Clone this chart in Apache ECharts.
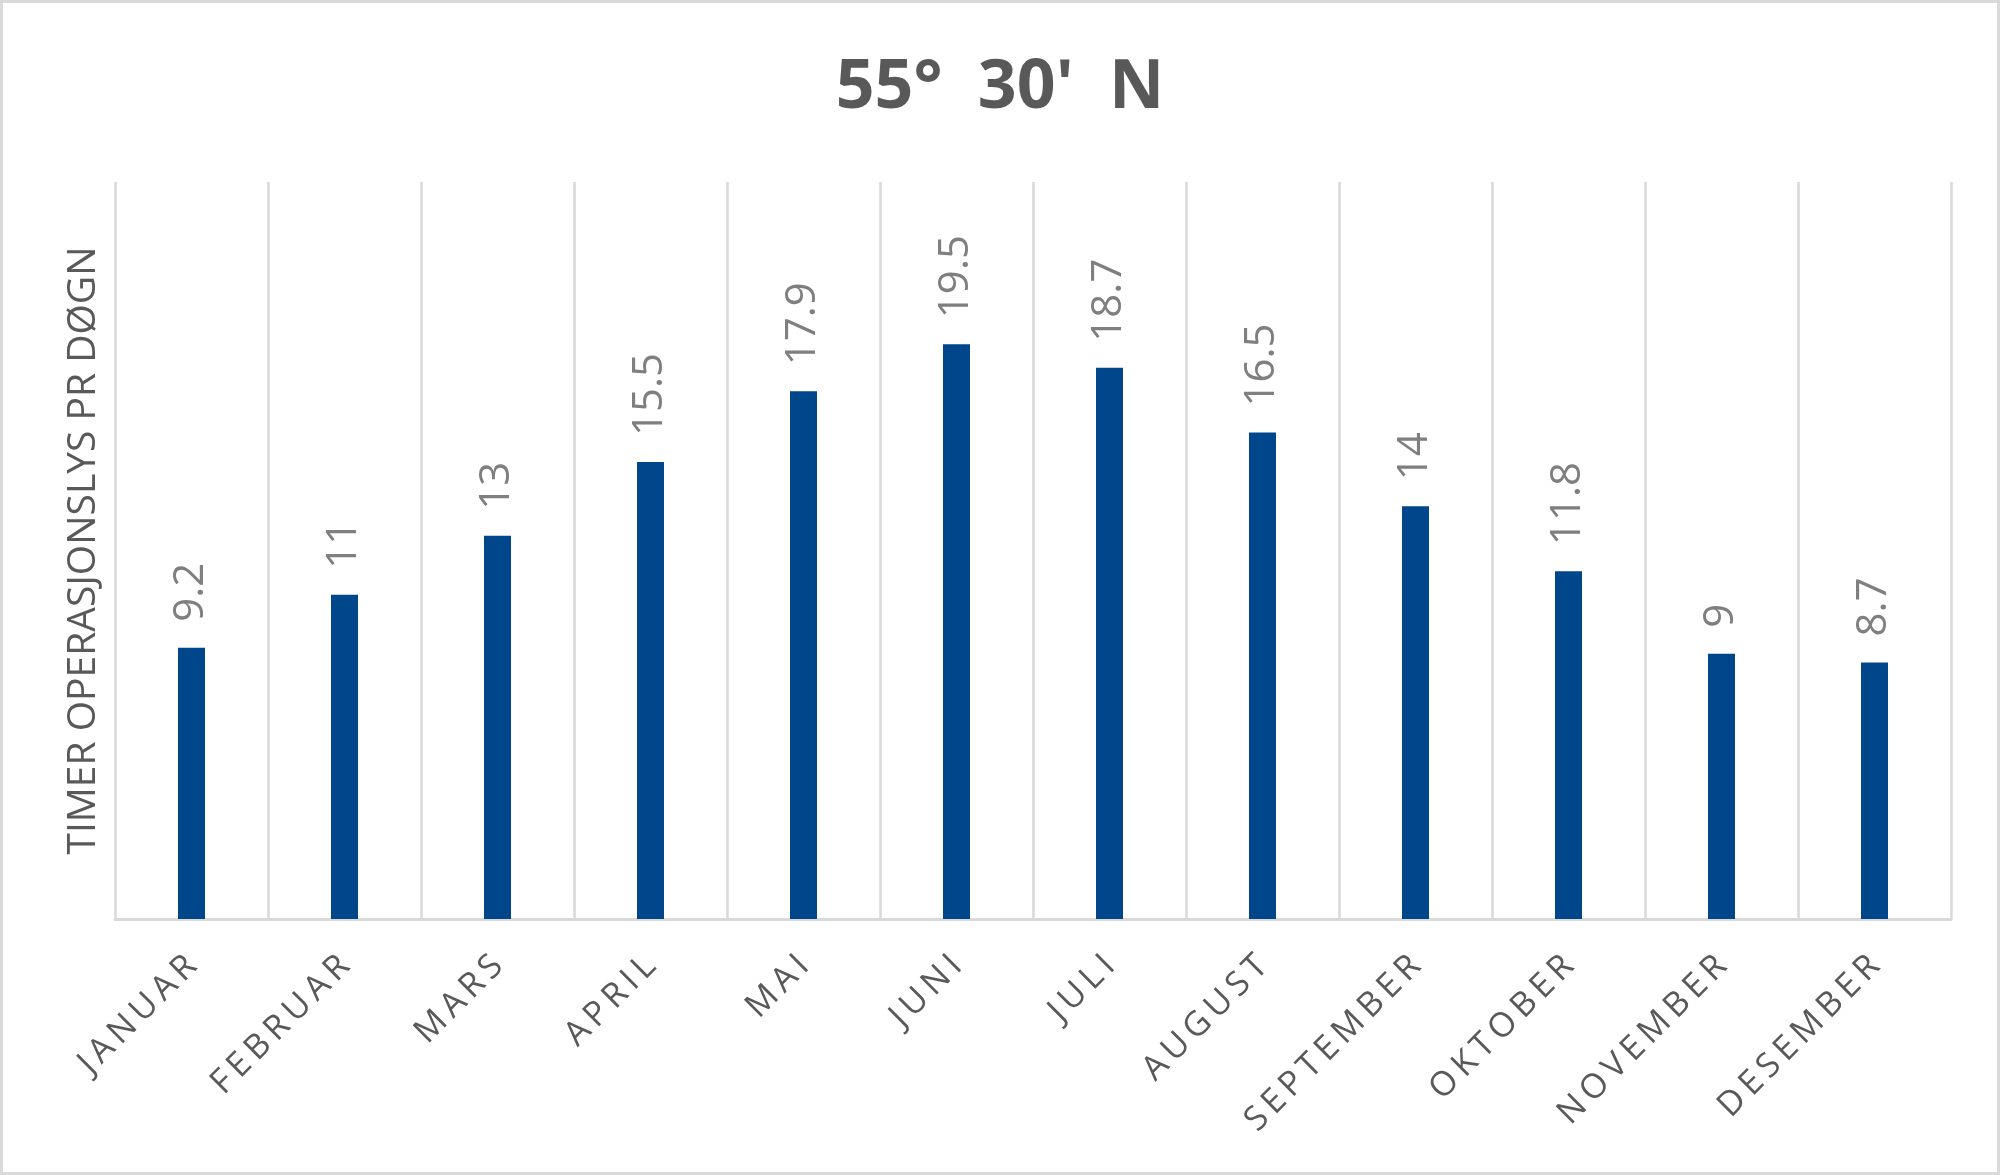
<!DOCTYPE html>
<html>
<head>
<meta charset="utf-8">
<script src="https://cdn.jsdelivr.net/npm/echarts@6/dist/echarts.min.js"></script>
<style>
  html, body { margin: 0; padding: 0; background: #fff; }
  #frame { width: 2000px; height: 1175px; box-sizing: border-box; border: 3px solid #d9d9d9; }
  #chart { width: 1994px; height: 1169px; }
</style>
</head>
<body>
<div id="frame"><div id="chart"></div></div>
<script>
// Data
const months = ['JANUAR', 'FEBRUAR', 'MARS', 'APRIL', 'MAI', 'JUNI',
                'JULI', 'AUGUST', 'SEPTEMBER', 'OKTOBER', 'NOVEMBER', 'DESEMBER']
const hours  = [9.2, 11, 13, 15.5, 17.9, 19.5, 18.7, 16.5, 14, 11.8, 9, 8.7]
const titleText = '55°  30\'  N'
const yName = 'TIMER OPERASJONSLYS PR DØGN'

// Excel-style spaced capitals on the category labels
const spaced = s => s.split('').join('\u2009')

const chart = echarts.init(document.getElementById('chart'))
chart.setOption({
  animation: false,
  title: {
    text: titleText,
    left: 'center',
    top: 47,
    textStyle: { fontFamily: 'Open Sans', fontWeight: 'bold', fontSize: 68, color: '#595959' },
  },
  grid: { left: 112, right: 46, top: 179, bottom: 253 },
  xAxis: {
    type: 'category',
    data: months,
    boundaryGap: true,
    axisLine: { lineStyle: { color: '#d9d9d9', width: 3 } },
    axisTick: { show: false },
    splitLine: { show: true, lineStyle: { color: '#d9d9d9', width: 2.5 } },
    axisLabel: {
      rotate: 45,
      margin: 42,
      fontFamily: 'Open Sans',
      fontSize: 34,
      color: '#595959',
      interval: 0,
      formatter: v => spaced(v),
    },
  },
  yAxis: {
    type: 'value',
    min: 0,
    max: 25,
    name: yName,
    nameLocation: 'middle',
    nameRotate: 90,
    nameGap: 12,
    nameTextStyle: { fontFamily: 'Open Sans', fontSize: 39, color: '#595959' },
    axisLine: { show: false },
    axisTick: { show: false },
    axisLabel: { show: false },
    splitLine: { show: false },
  },
  series: [{
    type: 'bar',
    data: hours,
    barWidth: 27,
    itemStyle: { color: '#00468b' },
    label: {
      show: true,
      position: 'top',
      rotate: 90,
      align: 'left',
      verticalAlign: 'middle',
      distance: 26,
      fontFamily: 'Open Sans',
      fontSize: 42,
      color: '#7f7f7f',
    },
  }],
})
</script>
</body>
</html>
